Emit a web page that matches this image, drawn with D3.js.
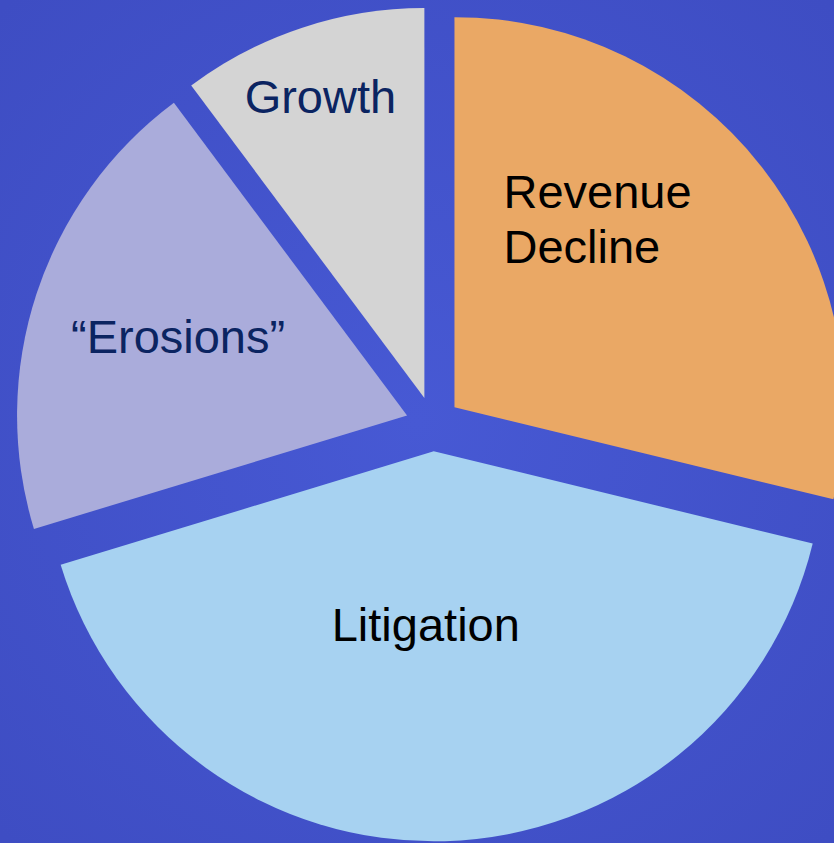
<!DOCTYPE html>
<html>
<head>
<meta charset="utf-8">
<script src="https://cdn.jsdelivr.net/npm/d3@7"></script>
<style>
html,body{margin:0;padding:0;overflow:hidden;}
svg{display:block;}
</style>
</head>
<body>
<svg id="chart" width="834" height="843"></svg>
<script>
// ---- data ----
const categories = ["Revenue Decline", "Litigation", "\u201CErosions\u201D", "Growth"];
const values = [28.8, 41.5, 19.5, 10.2];
const colors = ["#EAA865", "#A7D2F1", "#AAACDB", "#D4D4D4"];
const textColors = ["#000000", "#000000", "#0B2461", "#0B2461"];

// ---- layout ----
const W = 834, H = 843;
const cx = 433, cy = 424, R = 390, explode = 27.3;
// label anchor offsets relative to each slice's apex (start-anchored lines or centered)
const labelLayout = [
  {dx: 49, dy: -199, anchor: "start", lines: ["Revenue", "Decline"]},
  {dx: -8, dy: 190, anchor: "middle", lines: ["Litigation"]},
  {dx: -229, dy: -62, anchor: "middle", lines: ["\u201CErosions\u201D"]},
  {dx: -104, dy: -285, anchor: "middle", lines: ["Growth"]}
];

const svg = d3.select("#chart");
const defs = svg.append("defs");
const grad = defs.append("radialGradient").attr("id", "bg")
  .attr("cx", "50%").attr("cy", "50%").attr("r", "70%");
grad.append("stop").attr("offset", "0%").attr("stop-color", "#4759D4");
grad.append("stop").attr("offset", "100%").attr("stop-color", "#3E4DC3");
svg.append("rect").attr("width", W).attr("height", H).attr("fill", "url(#bg)");

const data = categories.map((c, i) => ({name: c, value: values[i], i}));
const pie = d3.pie().value(d => d.value).sort(null).startAngle(0).endAngle(2 * Math.PI);
const arc = d3.arc().innerRadius(0).outerRadius(R);

const arcs = pie(data);
const g = svg.append("g").attr("transform", `translate(${cx},${cy})`);

const slice = g.selectAll("g.slice").data(arcs).enter().append("g")
  .attr("class", "slice")
  .attr("transform", d => {
    const mid = (d.startAngle + d.endAngle) / 2;
    return `translate(${Math.sin(mid) * explode},${-Math.cos(mid) * explode})`;
  });

slice.append("path")
  .attr("d", arc)
  .attr("fill", d => colors[d.data.i]);

slice.each(function(d) {
  const L = labelLayout[d.data.i];
  const t = d3.select(this).append("text")
    .attr("x", L.dx).attr("y", L.dy)
    .attr("text-anchor", L.anchor)
    .attr("font-family", "Liberation Sans, Arial, sans-serif")
    .attr("font-size", 47)
    .attr("fill", textColors[d.data.i]);
  L.lines.forEach((ln, k) => {
    t.append("tspan").attr("x", L.dx).attr("dy", k === 0 ? 0 : 55).text(ln);
  });
});
</script>
</body>
</html>
